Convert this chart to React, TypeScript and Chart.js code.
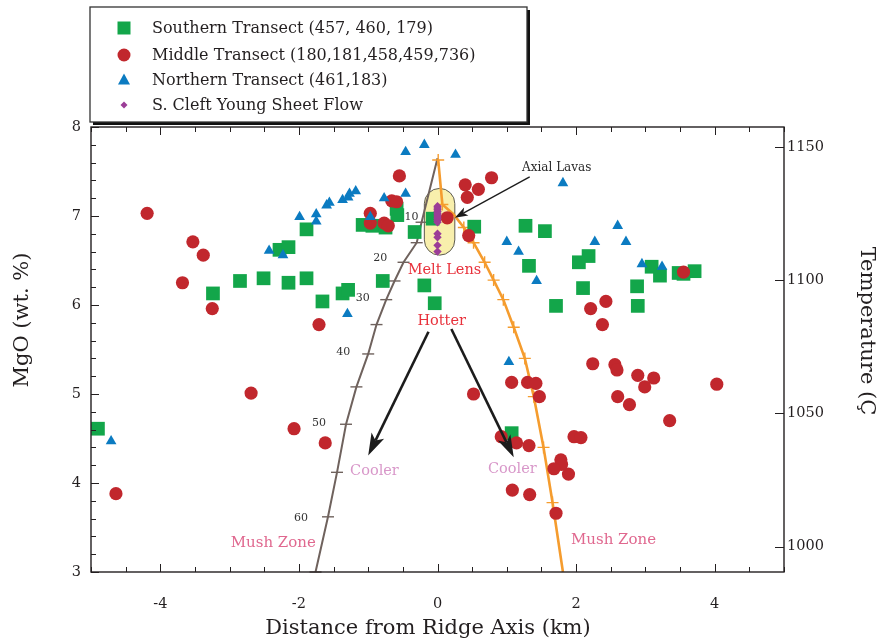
import React, { useEffect, useRef } from 'react';
import { Chart, registerables } from 'chart.js';

Chart.register(...registerables);

const FONT = 'DejaVu Serif';
const GREEN = '#13a64a';
const RED = '#c1272d';
const BLUE = '#0b7bc1';
const PURPLE = '#9b3d97';
const ORANGE = '#f59c2e';
const BROWN = '#6f625d';
const INK = '#231f20';

// ---- Data (x: distance from ridge axis km, y: MgO wt.%) ----
const southern: [number, number][] = [
  [-4.90, 4.61], [-3.24, 6.13], [-2.85, 6.27], [-2.51, 6.30], [-2.15, 6.25], [-1.89, 6.30],
  [-2.28, 6.62], [-2.15, 6.65], [-1.89, 6.85], [-1.66, 6.04], [-1.37, 6.13], [-1.29, 6.17],
  [-1.08, 6.90], [-0.94, 6.89], [-0.75, 6.87], [-0.59, 7.08], [-0.58, 7.01], [-0.79, 6.27],
  [-0.33, 6.82], [-0.19, 6.22], [-0.04, 6.02], [-0.07, 6.97], [0.53, 6.88], [1.27, 6.89],
  [1.55, 6.83], [1.32, 6.44], [2.04, 6.48], [2.18, 6.55], [2.10, 6.19], [1.71, 5.99],
  [2.88, 6.21], [2.89, 5.99], [3.09, 6.43], [3.21, 6.33], [3.48, 6.36], [3.55, 6.35],
  [3.71, 6.38], [1.07, 4.56],
];

const middle: [number, number][] = [
  [-4.64, 3.88], [-4.19, 7.03], [-3.53, 6.71], [-3.38, 6.56], [-3.68, 6.25], [-3.25, 5.96],
  [-2.69, 5.01], [-2.07, 4.61], [-1.71, 5.78], [-1.62, 4.45], [-0.55, 7.45], [-0.66, 7.17],
  [-0.59, 7.16], [-0.97, 7.03], [-0.97, 6.92], [-0.77, 6.92], [-0.71, 6.89], [0.14, 6.98],
  [0.40, 7.35], [0.59, 7.30], [0.78, 7.43], [0.43, 7.21], [0.45, 6.78], [0.52, 5.00],
  [1.07, 5.13], [1.30, 5.13], [1.42, 5.12], [1.47, 4.97], [0.92, 4.52], [1.14, 4.45],
  [1.32, 4.42], [1.97, 4.52], [2.07, 4.51], [1.78, 4.26], [1.79, 4.21], [1.68, 4.16],
  [1.89, 4.10], [1.08, 3.92], [1.33, 3.87], [1.71, 3.66], [2.21, 5.96], [2.43, 6.04],
  [2.38, 5.78], [2.24, 5.34], [2.56, 5.33], [2.59, 5.27], [2.89, 5.21], [3.12, 5.18],
  [2.99, 5.08], [2.60, 4.97], [2.77, 4.88], [3.35, 4.70], [4.03, 5.11], [3.55, 6.37],
];

const northern: [number, number][] = [
  [-4.71, 4.47], [-2.43, 6.61], [-2.23, 6.56], [-1.99, 6.99], [-1.75, 7.02], [-1.75, 6.94],
  [-1.60, 7.12], [-1.56, 7.15], [-1.37, 7.18], [-1.29, 7.21], [-1.27, 7.25], [-1.18, 7.28],
  [-0.97, 6.99], [-0.77, 7.20], [-0.46, 7.25], [-0.46, 7.72], [-0.19, 7.80], [0.26, 7.69],
  [-1.30, 5.90], [1.81, 7.37], [1.00, 6.71], [1.17, 6.60], [1.43, 6.27], [2.27, 6.71],
  [2.60, 6.89], [2.72, 6.71], [2.95, 6.46], [3.24, 6.43], [1.03, 5.36],
];

const cleftFlow: [number, number][] = [
  [0, 7.11], [0, 7.09], [0, 7.07], [0, 7.05], [0, 7.03], [0, 7.01], [0, 6.99], [0, 6.97],
  [0, 6.95], [0, 6.93], [0, 6.80], [0, 6.76], [0, 6.67], [0, 6.60],
];

// Right-side (orange) isotherm curve with cross ticks
const orangeCurve: [number, number][] = [
  [0.01, 7.63], [0.07, 7.13], [0.23, 7.02], [0.38, 6.87], [0.52, 6.70], [0.68, 6.48],
  [0.81, 6.28], [0.95, 6.06], [1.10, 5.75], [1.26, 5.40], [1.39, 4.97], [1.53, 4.40],
  [1.66, 3.78], [1.81, 3.00],
];
const orangeTicks = [1, 1, 0, 1, 1, 1, 1, 1, 1, 1, 1, 1, 1, 0];

// Left-side (brown) depth curve with dash ticks
const brownCurve: [number, number][] = [
  [0.00, 7.65], [-0.23, 6.93], [-0.30, 6.70], [-0.49, 6.48], [-0.62, 6.27], [-0.74, 6.06],
  [-0.88, 5.78], [-1.00, 5.45], [-1.17, 5.08], [-1.32, 4.66], [-1.45, 4.12], [-1.58, 3.62],
  [-1.76, 3.00],
];
const brownTicks = [0, 1, 1, 1, 1, 1, 1, 1, 1, 1, 1, 1, 1];

const depthLabels = ['10', '20', '30', '40', '50', '60'];
const depthLabelPos: [number, number][] = [
  [-0.376, 6.99], [-0.825, 6.53], [-1.08, 6.08], [-1.36, 5.47], [-1.71, 4.67], [-1.97, 3.61],
];

const xTickLabels = [-4, -2, 0, 2, 4];
const yTickLabels = [3, 4, 5, 6, 7, 8];
const tempTickLabels = [1000, 1050, 1100, 1150];

const legendItems = [
  { label: 'Southern Transect (457, 460, 179)', style: 'rect', color: GREEN },
  { label: 'Middle Transect (180,181,458,459,736)', style: 'circle', color: RED },
  { label: 'Northern Transect (461,183)', style: 'triangle', color: BLUE },
  { label: 'S. Cleft Young Sheet Flow', style: 'diamond', color: PURPLE },
];

const notes = [
  { text: 'Axial Lavas', at: [1.72, 7.54], color: '#2a2a2a', size: 12 },
  { text: 'Melt Lens', at: [0.10, 6.39], color: '#e8323c', size: 14.5 },
  { text: 'Hotter', at: [0.06, 5.82], color: '#e8323c', size: 14.5 },
  { text: 'Cooler', at: [-0.91, 4.13], color: '#d897c9', size: 14.5 },
  { text: 'Cooler', at: [1.08, 4.16], color: '#d897c9', size: 14.5 },
  { text: 'Mush Zone', at: [-2.37, 3.33], color: '#e0688f', size: 15 },
  { text: 'Mush Zone', at: [2.54, 3.36], color: '#e0688f', size: 15 },
];

const arrows = [
  { from: [1.33, 7.44], to: [0.25, 6.98], head: 13, headW: 9, lw: 1.3 },
  { from: [-0.13, 5.70], to: [-1.0, 4.31], head: 22, headW: 14, lw: 2.6 },
  { from: [0.20, 5.73], to: [1.10, 4.29], head: 22, headW: 14, lw: 2.6 },
];

const meltLens = { x0: -0.19, x1: 0.25, yTop: 7.31, yBot: 6.56 };

function drawArrow(ctx: CanvasRenderingContext2D, x1: number, y1: number, x2: number, y2: number, head: number, headW: number, lw: number) {
  const ang = Math.atan2(y2 - y1, x2 - x1);
  const c = Math.cos(ang), s = Math.sin(ang);
  const bx = x2 - head * c, by = y2 - head * s;
  const nx = x2 - head * 0.75 * c, ny = y2 - head * 0.75 * s;
  ctx.beginPath();
  ctx.moveTo(x1, y1);
  ctx.lineTo(nx, ny);
  ctx.lineWidth = lw;
  ctx.stroke();
  ctx.beginPath();
  ctx.moveTo(x2, y2);
  ctx.lineTo(bx + (headW / 2) * s, by - (headW / 2) * c);
  ctx.lineTo(nx, ny);
  ctx.lineTo(bx - (headW / 2) * s, by + (headW / 2) * c);
  ctx.closePath();
  ctx.fill();
}

const decor = {
  id: 'decor',
  beforeDatasetsDraw(chart: any) {
    const { ctx, scales } = chart;
    const x0 = scales.x.getPixelForValue(meltLens.x0);
    const x1 = scales.x.getPixelForValue(meltLens.x1);
    const yt = scales.y.getPixelForValue(meltLens.yTop);
    const yb = scales.y.getPixelForValue(meltLens.yBot);
    const r = (x1 - x0) / 2;
    ctx.save();
    ctx.beginPath();
    ctx.roundRect(x0, yt, x1 - x0, yb - yt, r);
    ctx.fillStyle = '#f8efac';
    ctx.fill();
    ctx.strokeStyle = '#5c5a50';
    ctx.lineWidth = 1;
    ctx.stroke();
    ctx.restore();
  },
  afterDatasetsDraw(chart: any) {
    const { ctx, scales } = chart;
    const px = (v: number) => scales.x.getPixelForValue(v);
    const py = (v: number) => scales.y.getPixelForValue(v);
    ctx.save();
    ctx.strokeStyle = '#1c1c1c';
    ctx.fillStyle = '#1c1c1c';
    for (const a of arrows) {
      drawArrow(ctx, px(a.from[0]), py(a.from[1]), px(a.to[0]), py(a.to[1]), a.head, a.headW, a.lw);
    }
    ctx.textAlign = 'center';
    ctx.textBaseline = 'middle';
    for (const n of notes) {
      ctx.font = `${n.size}px "${FONT}"`;
      ctx.fillStyle = n.color;
      ctx.fillText(n.text, px(n.at[0]), py(n.at[1]));
    }
    ctx.font = `11px "${FONT}"`;
    ctx.fillStyle = '#333';
    depthLabels.forEach((t, i) => {
      ctx.fillText(t, px(depthLabelPos[i][0]), py(depthLabelPos[i][1]));
    });
    ctx.restore();
  },
  afterDraw(chart: any) {
    const { ctx, chartArea: a, scales } = chart;
    const sx = scales.x, sy = scales.y, sy2 = scales.y2;
    ctx.save();
    // frame
    ctx.strokeStyle = INK;
    ctx.lineWidth = 1.4;
    ctx.strokeRect(a.left, a.top, a.right - a.left, a.bottom - a.top);
    // ticks
    ctx.lineWidth = 1;
    ctx.beginPath();
    for (let k = -10; k <= 10; k++) {
      const v = k * 0.5;
      const p = Math.round(sx.getPixelForValue(v)) + 0.5;
      const len = xTickLabels.includes(v) ? 8 : 5;
      ctx.moveTo(p, a.bottom); ctx.lineTo(p, a.bottom - len);
      ctx.moveTo(p, a.top); ctx.lineTo(p, a.top + len);
    }
    for (let k = 15; k <= 40; k++) {
      const v = k * 0.2;
      const p = Math.round(sy.getPixelForValue(v)) + 0.5;
      const len = Math.abs(v - Math.round(v)) < 1e-6 ? 8 : 5;
      ctx.moveTo(a.left, p); ctx.lineTo(a.left + len, p);
    }
    for (const t of tempTickLabels) {
      const p = Math.round(sy2.getPixelForValue(t)) + 0.5;
      ctx.moveTo(a.right, p); ctx.lineTo(a.right - 9, p);
    }
    ctx.stroke();

    // axis titles
    ctx.fillStyle = INK;
    ctx.textAlign = 'center';
    ctx.textBaseline = 'middle';
    ctx.font = `21px "${FONT}"`;
    ctx.fillText('Distance from Ridge Axis (km)', 428, 629);
    ctx.save();
    ctx.translate(23, 320);
    ctx.rotate(-Math.PI / 2);
    ctx.font = `21px "${FONT}"`;
    ctx.fillText('MgO (wt. %)', 0, 0);
    ctx.restore();
    ctx.save();
    ctx.translate(866, 331);
    ctx.rotate(Math.PI / 2);
    ctx.font = `21px "${FONT}"`;
    ctx.fillText('Temperature (Ç', 0, 0);
    ctx.restore();

    // legend box
    const L = { x: 90, y: 7, w: 437, h: 115 };
    ctx.fillStyle = '#111';
    ctx.fillRect(L.x + 3, L.y + 3, L.w, L.h);
    ctx.fillStyle = '#fff';
    ctx.fillRect(L.x, L.y, L.w, L.h);
    ctx.strokeStyle = '#333';
    ctx.lineWidth = 1.3;
    ctx.strokeRect(L.x, L.y, L.w, L.h);
    const rows = [28, 55, 80, 105];
    ctx.textAlign = 'left';
    ctx.font = `16px "${FONT}"`;
    legendItems.forEach((it, i) => {
      const cy = rows[i], cx = 124;
      ctx.fillStyle = it.color;
      ctx.beginPath();
      if (it.style === 'rect') ctx.rect(cx - 6.5, cy - 6.5, 13, 13);
      else if (it.style === 'circle') ctx.arc(cx, cy, 6.5, 0, Math.PI * 2);
      else if (it.style === 'triangle') {
        ctx.moveTo(cx, cy - 6.5); ctx.lineTo(cx + 6, cy + 4.5); ctx.lineTo(cx - 6, cy + 4.5); ctx.closePath();
      } else {
        ctx.moveTo(cx, cy - 3.5); ctx.lineTo(cx + 3.5, cy); ctx.lineTo(cx, cy + 3.5); ctx.lineTo(cx - 3.5, cy); ctx.closePath();
      }
      ctx.fill();
      ctx.fillStyle = INK;
      ctx.fillText(it.label, 152, cy + 1);
    });
    ctx.restore();
  },
};

const toPts = (arr: [number, number][]) => arr.map(([x, y]) => ({ x, y }));

function buildConfig(): any {
  const tickFont = { family: FONT, size: 14.5 };
  return {
    type: 'scatter',
    data: {
      datasets: [
        { label: 'S. Cleft Young Sheet Flow', data: toPts(cleftFlow), pointStyle: 'rectRot', pointRadius: 4.2, backgroundColor: PURPLE, borderColor: PURPLE, borderWidth: 0, order: 0 },
        { label: 'Northern Transect', data: toPts(northern), pointStyle: 'triangle', pointRadius: 6.2, backgroundColor: BLUE, borderColor: BLUE, borderWidth: 0, order: 1 },
        { label: 'Middle Transect', data: toPts(middle), pointStyle: 'circle', pointRadius: 6.6, backgroundColor: RED, borderColor: RED, borderWidth: 0, order: 2 },
        { label: 'Southern Transect', data: toPts(southern), pointStyle: 'rect', pointRadius: 9.7, backgroundColor: GREEN, borderColor: GREEN, borderWidth: 0, order: 3 },
        {
          label: 'isotherm', data: toPts(orangeCurve), showLine: true, borderColor: ORANGE, borderWidth: 2.6,
          pointStyle: 'cross', pointRadius: orangeTicks.map((t) => (t ? 6 : 0)), pointBorderColor: ORANGE,
          pointBorderWidth: 1.4, backgroundColor: ORANGE, order: 4, clip: false,
        },
        {
          label: 'depth', data: toPts(brownCurve), showLine: true, borderColor: BROWN, borderWidth: 2,
          pointStyle: 'line', pointRadius: brownTicks.map((t) => (t ? 6 : 0)), pointBorderColor: BROWN,
          pointBorderWidth: 1.4, backgroundColor: BROWN, order: 5, clip: false,
        },
      ],
    },
    options: {
      animation: false,
      responsive: true,
      maintainAspectRatio: false,
      events: [],
      layout: { padding: { top: 127, left: 0, right: 0, bottom: 0 } },
      plugins: { legend: { display: false }, tooltip: { enabled: false } },
      scales: {
        x: {
          type: 'linear', position: 'bottom', min: -5, max: 5,
          grid: { display: false, drawTicks: false }, border: { display: false },
          ticks: { font: tickFont, color: INK, padding: 24, autoSkip: false, maxRotation: 0, callback: (v: number) => String(v) },
          afterBuildTicks: (s: any) => { s.ticks = xTickLabels.map((v) => ({ value: v })); },
          afterFit: (s: any) => { s.height = 72; },
        },
        y: {
          type: 'linear', position: 'left', min: 3, max: 8,
          grid: { display: false, drawTicks: false }, border: { display: false },
          ticks: { font: tickFont, color: INK, padding: 10, callback: (v: number) => String(v) },
          afterBuildTicks: (s: any) => { s.ticks = yTickLabels.map((v) => ({ value: v })); },
          afterFit: (s: any) => { s.width = 91; },
        },
        y2: {
          type: 'linear', position: 'right', min: 990.5, max: 1157.5,
          grid: { display: false, drawTicks: false }, border: { display: false },
          ticks: { font: tickFont, color: INK, padding: 3, callback: (v: number) => String(v) },
          afterBuildTicks: (s: any) => { s.ticks = tempTickLabels.map((v) => ({ value: v })); },
          afterFit: (s: any) => { s.width = 97; },
        },
      },
    },
    plugins: [decor],
  };
}

export default function App() {
  const ref = useRef<HTMLCanvasElement>(null);
  useEffect(() => {
    document.body.style.margin = '0';
    const chart = new Chart(ref.current as HTMLCanvasElement, buildConfig());
    return () => chart.destroy();
  }, []);
  return (
    <div style={{ position: 'relative', width: 881, height: 644 }}>
      <canvas ref={ref} />
    </div>
  );
}
